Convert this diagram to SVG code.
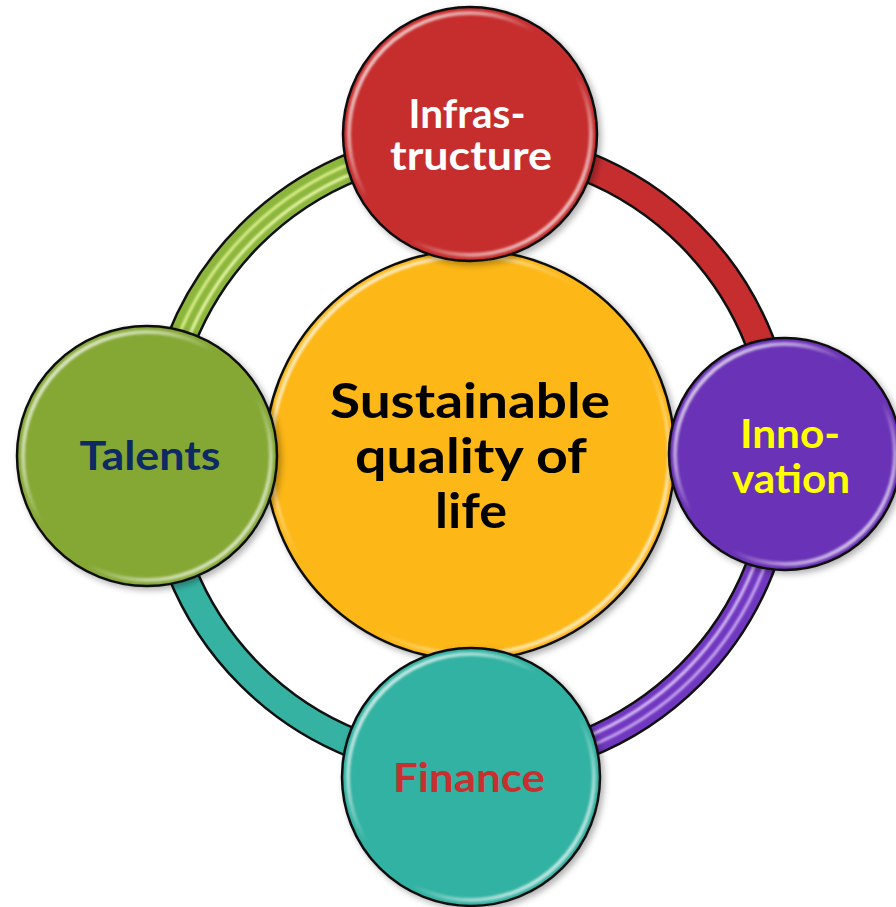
<svg xmlns="http://www.w3.org/2000/svg" width="896" height="907" viewBox="0 0 896 907">
<defs>
<linearGradient id="gloss" x1="0" y1="0" x2="1" y2="1">
<stop offset="0" stop-color="#fff" stop-opacity="0.9"/>
<stop offset="0.28" stop-color="#fff" stop-opacity="0.5"/>
<stop offset="0.42" stop-color="#fff" stop-opacity="0"/>
<stop offset="0.6" stop-color="#fff" stop-opacity="0"/>
<stop offset="0.75" stop-color="#fff" stop-opacity="0.5"/>
<stop offset="1" stop-color="#fff" stop-opacity="0.9"/>
</linearGradient>
<filter id="shadow" x="-10%" y="-10%" width="125%" height="125%">
<feDropShadow dx="3" dy="3" stdDeviation="3" flood-color="#000" flood-opacity="0.3"/>
</filter>
<filter id="soft" x="-5%" y="-5%" width="110%" height="110%">
<feGaussianBlur stdDeviation="1.2"/>
</filter>
<style>
.outline{fill:none;stroke:#111;stroke-width:31}
.band{fill:none;stroke-width:26}
.stripe{fill:none;stroke-width:3;filter:url(#soft)}
.disc{stroke:#111;stroke-width:2.5}
.glint{fill:none;stroke:url(#gloss);stroke-width:4;filter:url(#soft)}
.lbl{font-family:Lato,"Open Sans","Liberation Sans",sans-serif;font-weight:bold;text-anchor:middle}
</style>
</defs>
<rect width="896" height="907" fill="#fff"/>
<g id="connectors">
<path class="outline" d="M159,455 A311,311 0 0 1 470,144"/>
<path class="band" stroke="#8db63c" d="M159,455 A311,311 0 0 1 470,144"/>
<path class="stripe" stroke="#e6f7a8" d="M165,455 A305,305 0 0 1 470,150"/>
<path class="stripe" stroke="#d8f08c" stroke-width="2" d="M155,455 A315,315 0 0 1 470,140"/>
<path class="outline" d="M470,144 A311,311 0 0 1 781,455"/>
<path class="band" stroke="#c62d2f" d="M470,144 A311,311 0 0 1 781,455"/>
<path class="outline" d="M781,455 A311,311 0 0 1 470,766"/>
<path class="band" stroke="#7038c0" d="M781,455 A311,311 0 0 1 470,766"/>
<path class="stripe" stroke="#d9bdf5" d="M775,455 A305,305 0 0 1 470,760"/>
<path class="stripe" stroke="#c9a6f0" stroke-width="2" d="M785,455 A315,315 0 0 1 470,770"/>
<path class="outline" d="M470,766 A311,311 0 0 1 159,455"/>
<path class="band" stroke="#35b2a2" d="M470,766 A311,311 0 0 1 159,455"/>
</g>
<g id="center">
<circle class="disc" cx="470" cy="455" r="205" fill="#fdb713" filter="url(#shadow)"/>
<circle class="glint" cx="470" cy="455" r="199"/>
<text class="lbl" x="470" y="418" font-size="48" fill="#000" textLength="280" lengthAdjust="spacingAndGlyphs">Sustainable</text>
<text class="lbl" x="471" y="473" font-size="48" fill="#000" textLength="232" lengthAdjust="spacingAndGlyphs">quality of</text>
<text class="lbl" x="471" y="528" font-size="48" fill="#000" textLength="72" lengthAdjust="spacingAndGlyphs">life</text>
</g>
<g id="infrastructure">
<circle class="disc" cx="470" cy="134" r="127" fill="#c62d2f" filter="url(#shadow)"/>
<circle class="glint" cx="470" cy="134" r="121"/>
<text class="lbl" x="467" y="128" font-size="41" fill="#fff" textLength="117" lengthAdjust="spacingAndGlyphs">Infras-</text>
<text class="lbl" x="471" y="170" font-size="41" fill="#fff" textLength="162" lengthAdjust="spacingAndGlyphs">tructure</text>
</g>
<g id="talents">
<circle class="disc" cx="147" cy="456" r="130" fill="#85a834" filter="url(#shadow)"/>
<circle class="glint" cx="147" cy="456" r="124"/>
<text class="lbl" x="150" y="470" font-size="40" fill="#0d2a63" textLength="141" lengthAdjust="spacingAndGlyphs">Talents</text>
</g>
<g id="innovation">
<circle class="disc" cx="785" cy="454" r="116" fill="#6a30b6" filter="url(#shadow)"/>
<circle class="glint" cx="785" cy="454" r="110"/>
<text class="lbl" x="790" y="448" font-size="40" fill="#ffff00" textLength="100" lengthAdjust="spacingAndGlyphs">Inno-</text>
<text class="lbl" x="791" y="493" font-size="40" fill="#ffff00" textLength="118" lengthAdjust="spacingAndGlyphs">vation</text>
</g>
<g id="finance">
<circle class="disc" cx="471" cy="777" r="129" fill="#33b2a2" filter="url(#shadow)"/>
<circle class="glint" cx="471" cy="777" r="123"/>
<text class="lbl" x="469" y="792" font-size="40" fill="#c8302f" textLength="152" lengthAdjust="spacingAndGlyphs">Finance</text>
</g>
</svg>
